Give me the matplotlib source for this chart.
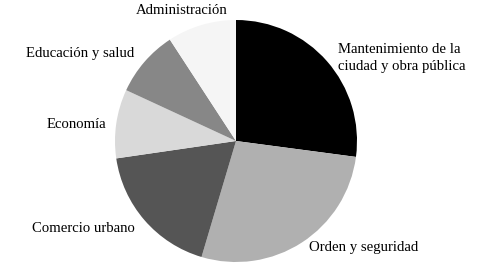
import matplotlib
matplotlib.use("Agg")
import matplotlib.pyplot as plt

# sectores (en orden horario desde arriba)
sectores = ["Mantenimiento de la\nciudad y obra pública", "Orden y seguridad",
            "Comercio urbano", "Economía", "Educación y salud", "Administración"]
porcentajes = [27.1, 27.5, 18.1, 9.2, 8.9, 9.2]
colores = ["#000000", "#b0b0b0", "#555555", "#d9d9d9", "#878787", "#f5f5f5"]

plt.rcParams["font.family"] = ["Liberation Serif", "DejaVu Serif"]

fig = plt.figure(figsize=(4.89, 2.79), dpi=100)
ax = fig.add_axes([0, 0, 1, 1])

ax.pie(porcentajes, colors=colores, startangle=90, counterclock=False,
       center=(236, 138), radius=121, wedgeprops=dict(linewidth=0))
ax.set_xlim(0, 489)
ax.set_ylim(0, 279)
ax.set_aspect("equal")
ax.axis("off")

fs = 10.6
# etiquetas colocadas a mano, como en el original
ax.text(182, 279 - 11, sectores[5], ha="center", va="center", fontsize=fs)
ax.text(338, 279 - 58, sectores[0], ha="left", va="center", fontsize=fs, linespacing=1.35)
ax.text(134, 279 - 54, sectores[4], ha="right", va="center", fontsize=fs)
ax.text(106, 279 - 124, sectores[3], ha="right", va="center", fontsize=fs)
ax.text(135, 279 - 229, sectores[2], ha="right", va="center", fontsize=fs)
ax.text(309, 279 - 248, sectores[1], ha="left", va="center", fontsize=fs)

fig.savefig("out.png", dpi=100, facecolor="white")
